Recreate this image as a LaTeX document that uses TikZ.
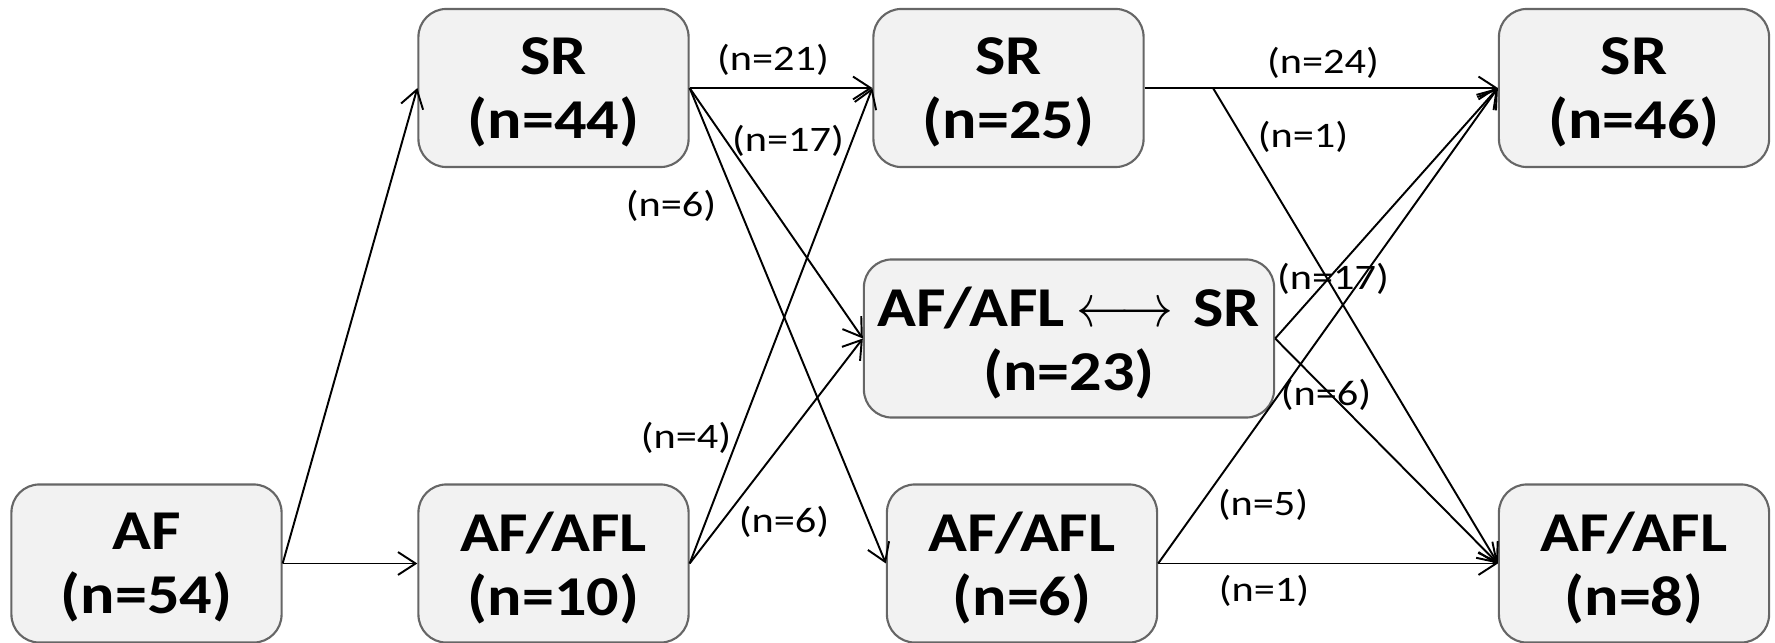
\documentclass[tikz,border=0pt]{standalone}
\usepackage{fontspec}
\usepackage{graphicx}
\setmainfont{Carlito}
\newfontfamily\boxfont{Carlito}[FakeStretch=1.14]
\newfontfamily\labfont{Carlito}[FakeStretch=1.18]
\usetikzlibrary{arrows.meta}
\begin{document}
\begin{tikzpicture}[x=0.01cm,y=-0.01cm,
  box/.style={draw=black!60, line width=0.6pt, fill=black!5, rounded corners=0.28cm,
    minimum width=2.7cm, minimum height=1.58cm, inner sep=0pt, align=center,
    text depth=0pt,
    font=\boxfont\bfseries\fontsize{16}{18.2}\selectfont},
  lab/.style={font=\labfont\fontsize{10.2}{11}\selectfont, inner sep=0pt},
  conn/.style={line width=0.55pt, -{Straight Barb[length=5pt,width=6.5pt,line width=0.55pt]}}]
\useasboundingbox (0,0) rectangle (1775,643);
\node[box] (af) at (146.5,563.5) {AF\\(n=54)};
\node[box] (sr1) at (553.5,88) {SR\\(n=44)};
\node[box] (afl1) at (553.5,563.5) {AF/AFL\\(n=10)};
\node[box] (sr2) at (1008.5,88) {SR\\(n=25)};
\node[box, minimum width=4.1cm] (mix) at (1069,338.5) {AF/AFL\hspace{0.12cm}\scalebox{0.87}[1]{$\longleftrightarrow$}\hspace{0.2cm}SR\\(n=23)};
\node[box] (afl2) at (1022,563.5) {AF/AFL\\(n=6)};
\node[box] (sr3) at (1634,88) {SR\\(n=46)};
\node[box] (afl3) at (1634,563.5) {AF/AFL\\(n=8)};
\coordinate (br) at (1213,88);
\draw[conn] (af.east) -- (sr1.west);
\draw[conn] (af.east) -- (afl1.west);
\draw[conn] (sr1.east) -- (sr2.west);
\draw[conn] (sr1.east) -- (mix.west);
\draw[conn] (sr1.east) -- (afl2.west);
\draw[conn] (afl1.east) -- (sr2.west);
\draw[conn] (afl1.east) -- (mix.west);
\draw[conn] (sr2.east) -- (sr3.west);
\draw[conn] (br) -- (afl3.west);
\draw[conn] (mix.east) -- (sr3.west);
\draw[conn] (mix.east) -- (afl3.west);
\draw[conn] (afl2.east) -- (sr3.west);
\draw[conn] (afl2.east) -- (afl3.west);
\node[lab] (l1) at (773,60) {(n=21)};
\node[lab] (l2) at (788,141) {(n=17)};
\node[lab] (l3) at (671,206) {(n=6)};
\node[lab] (l4) at (686,438) {(n=4)};
\node[lab] (l5) at (784,522) {(n=6)};
\node[lab] (l6) at (1323,63) {(n=24)};
\node[lab] (l7) at (1303,137) {(n=1)};
\node[lab] (l8) at (1333,279) {(n=17)};
\node[lab] (l9) at (1326,395) {(n=6)};
\node[lab] (l10) at (1263,505) {(n=5)};
\node[lab] (l11) at (1264,591) {(n=1)};
\end{tikzpicture}
\end{document}
